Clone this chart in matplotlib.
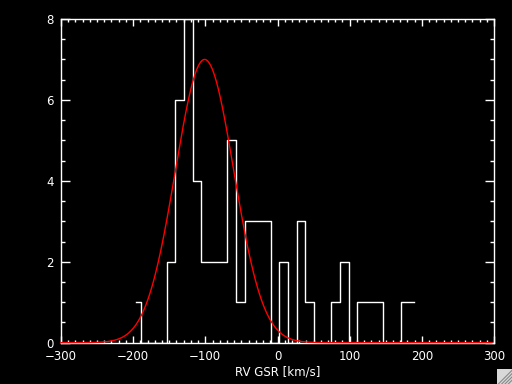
import numpy as np
import matplotlib
matplotlib.use('Agg')
import matplotlib.pyplot as plt
from matplotlib.ticker import MultipleLocator
from matplotlib.lines import Line2D
from matplotlib.patches import Rectangle

# histogram of RV GSR, bin width 12 km/s (values at bin centres)
bin_start = -195.4
bin_width = 12.0
counts = [1, 0, 0, 0, 2, 6, 8, 4, 2, 2, 2, 5, 1, 3, 3, 3, 0,
          2, 0, 3, 1, 0, 0, 1, 2, 0, 1, 1, 1, 0, 0, 1, 1]
centers = bin_start + bin_width * np.arange(len(counts))

# gaussian fit
g_amp = 7.0
g_mean = -101.0
g_sigma = 40.5

xlo, xhi = -300, 300
ylo, yhi = 0, 8

fig = plt.figure(figsize=(5.12, 3.84), dpi=100, facecolor='black')
ax = fig.add_axes([0.119, 0.1076, 0.846, 0.843], facecolor='black')

ax.step(centers, counts, where='mid', color='white', lw=1.0, zorder=3)

xg = np.linspace(xlo, 297, 600)
yg = g_amp * np.exp(-0.5 * ((xg - g_mean) / g_sigma) ** 2)
ax.plot(xg, yg, color='red', lw=1.0, zorder=4, clip_on=False)

ax.set_xlim(xlo, xhi)
ax.set_ylim(ylo, yhi)

for s in ax.spines.values():
    s.set_color('white')
    s.set_linewidth(1.0)

ax.xaxis.set_major_locator(MultipleLocator(100))
ax.xaxis.set_minor_locator(MultipleLocator(10))
ax.yaxis.set_major_locator(MultipleLocator(2))
ax.yaxis.set_minor_locator(MultipleLocator(0.5))

ax.tick_params(axis='both', which='both', direction='in', colors='white',
               top=True, right=True, width=1.0, labelsize=8.5)
ax.tick_params(axis='x', which='major', length=4.7, pad=5)
ax.tick_params(axis='x', which='minor', length=2.3)
ax.tick_params(axis='y', which='major', length=6.3, pad=5)
ax.tick_params(axis='y', which='minor', length=3.1)

ax.set_xlabel('RV GSR [km/s]', color='white', fontsize=8.5, labelpad=2)

# window resize grip in the corner
gx0, gy0 = 497 / 512, 0.0
gw, gh = 15 / 512, 15 / 384
fig.add_artist(Rectangle((gx0, gy0), gw, gh, transform=fig.transFigure,
                         facecolor='#d8d8d8', edgecolor='none'))
for k in range(4):
    f = 0.25 + k * 0.22
    fig.add_artist(Line2D([gx0 + gw * (1 - f), gx0 + gw], [gy0, gy0 + gh * f],
                          transform=fig.transFigure, color='#888888', lw=0.8))

fig.savefig('out.png', dpi=100, facecolor='black')
